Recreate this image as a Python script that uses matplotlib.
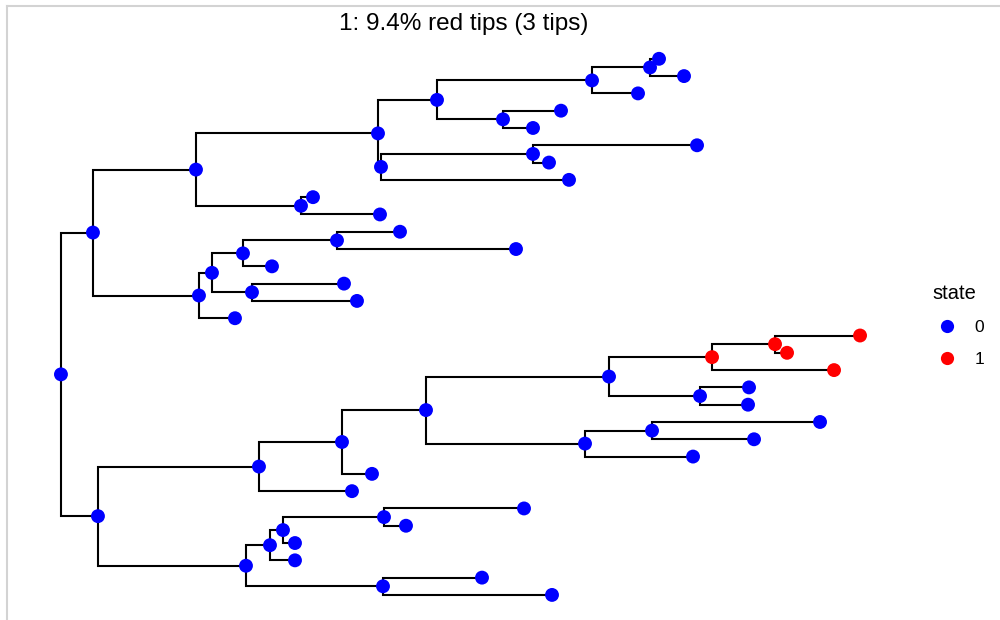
import numpy as np
import matplotlib
matplotlib.use("Agg")
import matplotlib.pyplot as plt
from matplotlib.collections import LineCollection
from matplotlib.lines import Line2D

plt.rcParams['font.family'] = ['Liberation Sans', 'DejaVu Sans']

# tree edges: parent -> child with branch length, children listed top to bottom
parent = ["n0", "n0",
          "n1", "n1", "n3", "n3", "n5", "n5", "n7", "n7", "n9", "n9",
          "n11", "n11", "n10", "n10", "n8", "n8", "n12", "n12", "n6", "n6",
          "n4", "n4", "n13", "n13", "n14", "n14", "n16", "n16", "n15", "n15",
          "n2", "n2", "n17", "n17", "n19", "n19", "n20", "n20", "n21", "n21",
          "n23", "n23", "n25", "n25", "n24", "n24", "n22", "n22", "n26", "n26",
          "n18", "n18", "n27", "n27", "n29", "n29", "n30", "n30", "n28", "n28"]
child = ["n1", "n2",
         "n3", "n4", "n5", "n6", "n7", "n8", "n9", "n10", "n11", "t3",
         "t1", "t2", "t4", "t5", "n12", "t8", "t6", "t7", "t9", "t10",
         "n13", "t16", "n14", "n15", "n16", "t13", "t11", "t12", "t14", "t15",
         "n17", "n18", "n19", "t26", "n20", "t25", "n21", "n22", "n23", "n24",
         "n25", "t19", "t17", "t18", "t20", "t21", "n26", "t24", "t22", "t23",
         "n27", "n28", "n29", "t30", "n30", "t29", "t27", "t28", "t31", "t32"]
blen = [0.32, 0.37,
        1.03, 1.06, 1.82, 1.05, 0.59, 0.03, 1.55, 0.66, 0.58, 0.46,
        0.09, 0.34, 0.58, 0.30, 1.52, 1.88, 1.64, 0.16, 0.12, 0.79,
        0.13, 0.36, 0.31, 0.40, 0.94, 0.29, 0.63, 1.79, 0.92, 1.05,
        1.61, 1.48, 0.83, 0.93, 0.84, 0.30, 1.83, 1.59, 1.03, 0.91,
        0.63, 1.22, 0.85, 0.12, 0.49, 0.48, 0.67, 1.08, 1.68, 1.02,
        0.24, 1.37, 0.13, 0.25, 1.01, 0.12, 1.40, 0.22, 0.99, 1.69]

# nodes carrying state 1 (everything else is state 0)
state1_nodes = ["n23", "n25", "t17", "t18", "t19"]
state_colors = {"0": "#0000FF", "1": "#FF0000"}

kids = {}
for p, c, b in zip(parent, child, blen):
    kids.setdefault(p, []).append((c, b))

# rectangular layout: x = distance from root, tips numbered top-down
xpos, ypos = {}, {}
tip_counter = [0]


def layout(node, depth):
    xpos[node] = depth
    if node not in kids:
        tip_counter[0] += 1
        ypos[node] = tip_counter[0]
        return
    for c, b in kids[node]:
        layout(c, depth + b)
    ypos[node] = np.mean([ypos[c] for c, _ in kids[node]])


layout("n0", 0.0)
n_tips = tip_counter[0]
n_red_tips = sum(1 for n in state1_nodes if n.startswith("t"))

fig = plt.figure(figsize=(10, 6.2), dpi=100)
ax = fig.add_axes([21 / 1000, 0, 879 / 1000, (620 - 32) / 620])

segs = []
for p, c in zip(parent, child):
    segs.append([(xpos[p], ypos[p]), (xpos[p], ypos[c]), (xpos[c], ypos[c])])
ax.add_collection(LineCollection(segs, colors="black", linewidths=1.5,
                                 capstyle="projecting", joinstyle="miter", zorder=1))

nodes = list(xpos.keys())
cols = [state_colors["1"] if n in state1_nodes else state_colors["0"] for n in nodes]
ax.scatter([xpos[n] for n in nodes], [ypos[n] for n in nodes], s=100,
           c=cols, edgecolors="none", zorder=2)

xmax = max(xpos.values())
ax.set_xlim(-0.05 * xmax, 1.05 * xmax)
ax.set_ylim(n_tips + 1.45, 1 - 0.05 * (n_tips - 1))
ax.axis("off")

ax.set_title(f"1: {100 * n_red_tips / n_tips:.1f}% red tips ({n_red_tips} tips)",
             fontsize=17.5, x=(464 - 21) / 879, y=(620 - 24) / 588, pad=0, va="center")

handles = [Line2D([], [], marker="o", linestyle="none", markersize=9.5,
                  markerfacecolor=state_colors[k], markeredgecolor="none")
           for k in ["0", "1"]]
leg = fig.legend(handles, ["0", "1"], title="state", loc="upper left",
                 bbox_to_anchor=(932 / 1000, 1 - 284 / 620), frameon=False,
                 fontsize=12.5, title_fontsize=14.5, borderpad=0, borderaxespad=0,
                 handlelength=1.75, handletextpad=0.7, labelspacing=0.96,
                 alignment="left")

# light grey frame line along the top and left edges
fig.add_artist(Line2D([7 / 1000, 1], [1 - 6 / 620, 1 - 6 / 620],
                      color="#d3d3d3", linewidth=1.5))
fig.add_artist(Line2D([7 / 1000, 7 / 1000], [0, 1 - 6 / 620],
                      color="#d3d3d3", linewidth=1.5))

fig.savefig("out.png", dpi=100)
